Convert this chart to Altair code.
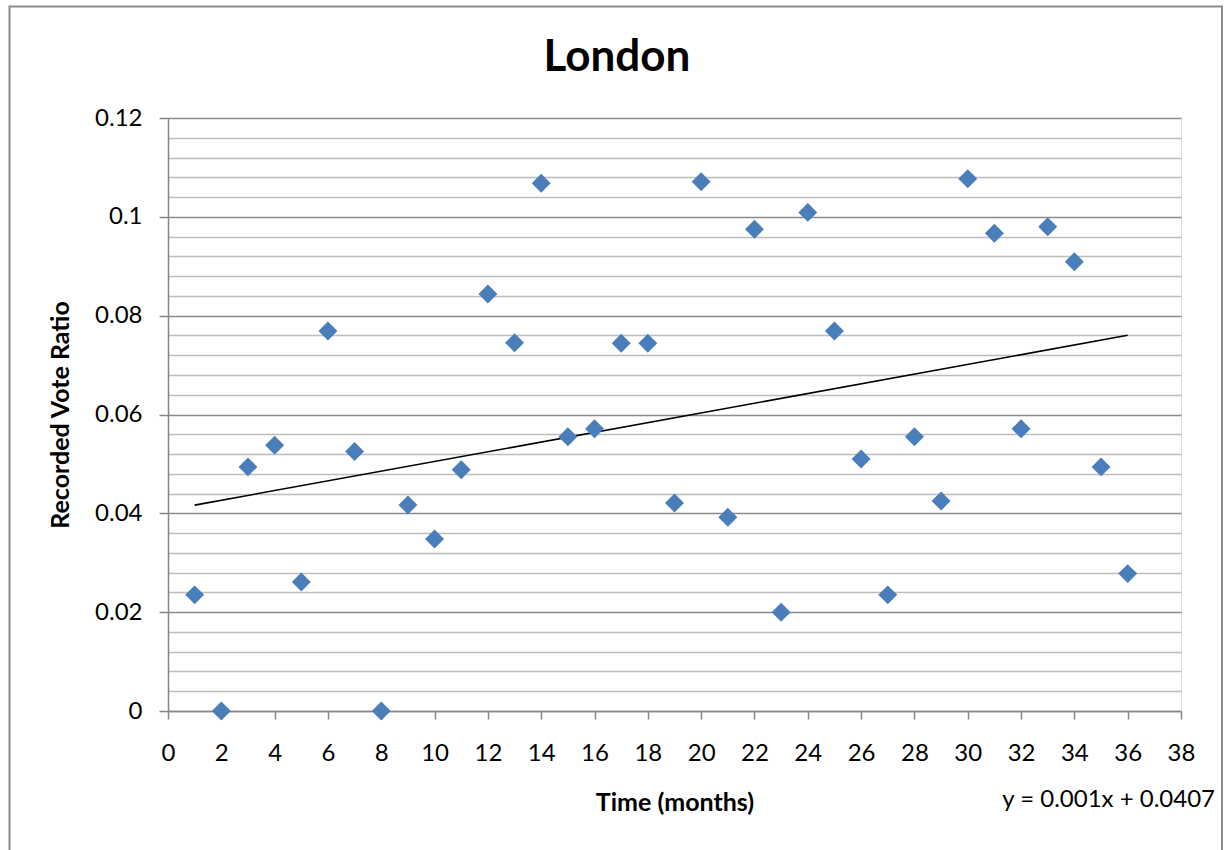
import altair as alt
import pandas as pd

months = list(range(1, 37))
ratios = [0.0235, 0.0, 0.0494, 0.0538, 0.0261, 0.0769, 0.0525, 0.0, 0.0417, 0.0348,
          0.0488, 0.0844, 0.0745, 0.1068, 0.0555, 0.0571, 0.0744, 0.0744, 0.0421, 0.1071,
          0.0392, 0.0975, 0.0200, 0.1009, 0.0769, 0.0510, 0.0235, 0.0555, 0.0425, 0.1077,
          0.0967, 0.0571, 0.0980, 0.0909, 0.0494, 0.0278]
x_ticks = list(range(0, 39, 2))
y_ticks = [round(i * 0.004, 3) for i in range(31)]
equation = "y = 0.001x + 0.0407"
title_text = "London"

df = pd.DataFrame({"month": months, "ratio": ratios})

FONT = "Lato"
W, H = 1013, 593
PL, PT = 168, 118

major = "round(datum.value*1000) % 20 == 0"

xenc = alt.X("month:Q", scale=alt.Scale(domain=[0, 38], nice=False, zero=False),
             axis=alt.Axis(values=x_ticks, tickCount=40, grid=False, title="Time (months)",
                           tickSize=8, tickColor="#868686", tickWidth=1.5,
                           domainColor="#868686", domainWidth=1.5,
                           labelPadding=22, labelFontSize=24, labelFont=FONT, labelColor="black",
                           titleFontSize=25, titleFont=FONT, titleFontWeight="bold",
                           titlePadding=25, titleColor="black", labelFlush=False,
                           labelOverlap=False))
yenc = alt.Y("ratio:Q", scale=alt.Scale(domain=[0, 0.12], nice=False),
             axis=alt.Axis(values=y_ticks, tickCount=60, grid=True, labelOverlap=False,
                           gridColor=alt.condition(major, alt.value("#8a8a8a"), alt.value("#bdbdbd")),
                           gridWidth=1.7,
                           tickOpacity=alt.condition(major, alt.value(1), alt.value(0)),
                           tickSize=9, tickColor="#868686", tickWidth=1.5,
                           domainColor="#868686", domainWidth=1.5,
                           labelExpr="(round(datum.value*1000) % 20 == 0) ? format(datum.value, '.2~f') : ''",
                           labelPadding=17, labelFontSize=24, labelFont=FONT, labelColor="black",
                           title="Recorded Vote Ratio", titleFontSize=25, titleFont=FONT,
                           titleFontWeight="bold", titlePadding=21, titleColor="black"))

points = alt.Chart(df).mark_point(shape="diamond", filled=True, size=360,
                                  color="#4a7ebb", opacity=1).encode(x=xenc, y=yenc)

trend = alt.Chart(df).transform_regression("month", "ratio", extent=[1, 36]).mark_line(
    color="black", strokeWidth=1.6).encode(x="month:Q", y="ratio:Q")

eq = alt.Chart(pd.DataFrame({"t": [equation]})).mark_text(
    font=FONT, fontSize=24, align="right", baseline="middle", color="black").encode(
    text="t:N", x=alt.value(1215 - PL), y=alt.value(800 - PT))

ttl = alt.Chart(pd.DataFrame({"t": [title_text]})).mark_text(
    font=FONT, fontSize=44, fontWeight="bold", align="center", baseline="middle",
    color="black").encode(text="t:N", x=alt.value(617 - PL), y=alt.value(58 - PT))

border = alt.Chart(pd.DataFrame({"a": [0]})).mark_rect(
    filled=False, stroke="#8c8c8c", strokeWidth=2).encode(
    x=alt.value(9.5 - PL), x2=alt.value(1222 - PL), y=alt.value(6.5 - PT), y2=alt.value(900 - PT))

chart = alt.layer(border, trend, points, eq, ttl).properties(
    width=W, height=H,
    autosize=alt.AutoSizeParams(type="none"),
    padding={"left": PL, "top": PT, "right": 1225 - PL - W, "bottom": 850 - PT - H},
).configure_view(stroke=None).configure(background="white")

chart.save("out.html", embed_options={"renderer": "svg", "actions": False})
